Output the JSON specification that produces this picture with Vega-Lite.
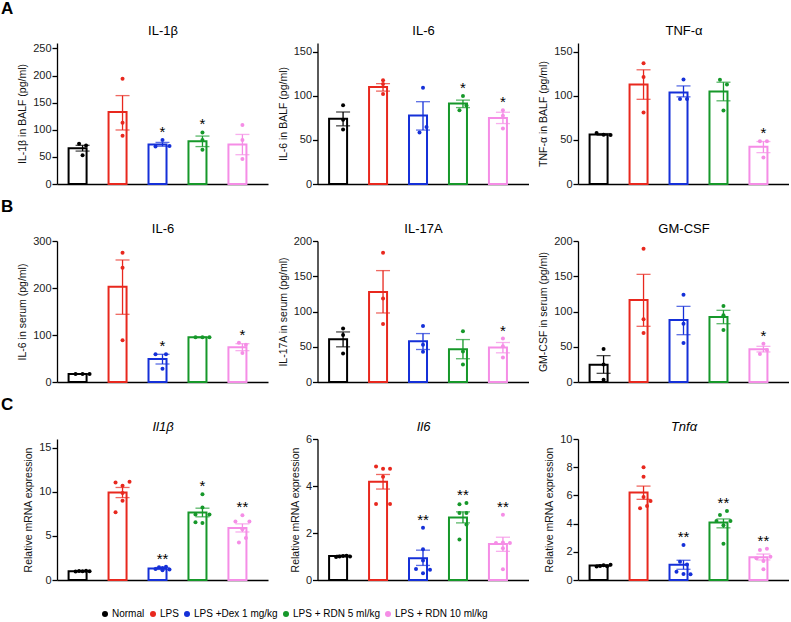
{
"$schema":"https://vega.github.io/schema/vega-lite/v6.json",
"padding":{"left":1,"top":0,"right":0,"bottom":0},
"columns":3,
"bounds":"flush",
"spacing":{"row":57,"column":49.5},
"config":{"font":"Liberation Sans","view":{"stroke":null},
 "axis":{"grid":false,"domainColor":"#000","tickColor":"#000","labelColor":"#222","labelFontSize":11,"titleFontSize":10.5,"titleFontWeight":"normal","titleColor":"#111","domainWidth":1.3,"tickWidth":1.3,"tickSize":5,"labelPadding":1,"titlePadding":5},
 "legend":{"orient":"none","legendX":43,"legendY":566,"direction":"horizontal","symbolType":"circle","symbolSize":36,"symbolStrokeWidth":0,"labelFont":"Liberation Sans","labelFontSize":10,"labelColor":"#000","columnPadding":3,"labelOffset":2},
 "title":{"fontSize":17,"fontWeight":"bold","color":"#000","anchor":"start","frame":"group","dx":-56,"offset":6}},
"datasets":{
"bars":[
{"p":"A1","g":"Normal","m":66,"lo":60.7,"hi":71.3},{"p":"A1","g":"LPS","m":132.7,"lo":99.6,"hi":163},{"p":"A1","g":"LPS +Dex 1 mg/kg","m":73,"lo":69.6,"hi":76.7},{"p":"A1","g":"LPS + RDN 5 ml/kg","m":79,"lo":69,"hi":88.4},{"p":"A1","g":"LPS + RDN 10 ml/kg","m":73,"lo":54,"hi":91.4},
{"p":"A2","g":"Normal","m":74,"lo":66,"hi":81.7},{"p":"A2","g":"LPS","m":110,"lo":105.4,"hi":113.9},{"p":"A2","g":"LPS +Dex 1 mg/kg","m":77.8,"lo":61.2,"hi":93.4},{"p":"A2","g":"LPS + RDN 5 ml/kg","m":91.3,"lo":86.7,"hi":95.2},{"p":"A2","g":"LPS + RDN 10 ml/kg","m":75,"lo":68.6,"hi":81.4},
{"p":"A3","g":"Normal","m":56.3,"lo":55.5,"hi":57.2},{"p":"A3","g":"LPS","m":113,"lo":96.1,"hi":129.6},{"p":"A3","g":"LPS +Dex 1 mg/kg","m":103.9,"lo":98.9,"hi":111.3},{"p":"A3","g":"LPS + RDN 5 ml/kg","m":104.9,"lo":94.4,"hi":115.5},{"p":"A3","g":"LPS + RDN 10 ml/kg","m":42.3,"lo":35.6,"hi":48.2},
{"p":"B1","g":"Normal","m":17,"lo":16.3,"hi":17.7},{"p":"B1","g":"LPS","m":202.8,"lo":144,"hi":259.6},{"p":"B1","g":"LPS +Dex 1 mg/kg","m":49,"lo":38.3,"hi":58.9},{"p":"B1","g":"LPS + RDN 5 ml/kg","m":95,"lo":94.5,"hi":95.5},{"p":"B1","g":"LPS + RDN 10 ml/kg","m":73.8,"lo":66.7,"hi":81.6},
{"p":"B2","g":"Normal","m":60.7,"lo":49.9,"hi":71},{"p":"B2","g":"LPS","m":127.5,"lo":97.9,"hi":158},{"p":"B2","g":"LPS +Dex 1 mg/kg","m":57.9,"lo":46.1,"hi":68.7},{"p":"B2","g":"LPS + RDN 5 ml/kg","m":46.6,"lo":33,"hi":60.2},{"p":"B2","g":"LPS + RDN 10 ml/kg","m":49,"lo":41.4,"hi":56},
{"p":"B3","g":"Normal","m":24.6,"lo":12.3,"hi":37.4},{"p":"B3","g":"LPS","m":116.3,"lo":79,"hi":152.7},{"p":"B3","g":"LPS +Dex 1 mg/kg","m":87.9,"lo":67.1,"hi":107.3},{"p":"B3","g":"LPS + RDN 5 ml/kg","m":92.2,"lo":82.7,"hi":101.7},{"p":"B3","g":"LPS + RDN 10 ml/kg","m":46.3,"lo":42.6,"hi":50.6},
{"p":"C1","g":"Normal","m":1.0,"lo":0.95,"hi":1.05},{"p":"C1","g":"LPS","m":9.92,"lo":9.35,"hi":10.5},{"p":"C1","g":"LPS +Dex 1 mg/kg","m":1.31,"lo":1.2,"hi":1.42},{"p":"C1","g":"LPS + RDN 5 ml/kg","m":7.65,"lo":7.17,"hi":8.15},{"p":"C1","g":"LPS + RDN 10 ml/kg","m":5.9,"lo":5.45,"hi":6.37},
{"p":"C2","g":"Normal","m":1.02,"lo":0.99,"hi":1.05},{"p":"C2","g":"LPS","m":4.18,"lo":3.87,"hi":4.49},{"p":"C2","g":"LPS +Dex 1 mg/kg","m":0.93,"lo":0.62,"hi":1.27},{"p":"C2","g":"LPS + RDN 5 ml/kg","m":2.66,"lo":2.43,"hi":2.9},{"p":"C2","g":"LPS + RDN 10 ml/kg","m":1.53,"lo":1.22,"hi":1.82},
{"p":"C3","g":"Normal","m":1.02,"lo":0.98,"hi":1.06},{"p":"C3","g":"LPS","m":6.2,"lo":5.72,"hi":6.66},{"p":"C3","g":"LPS +Dex 1 mg/kg","m":1.08,"lo":0.76,"hi":1.4},{"p":"C3","g":"LPS + RDN 5 ml/kg","m":4.07,"lo":3.7,"hi":4.33},{"p":"C3","g":"LPS + RDN 10 ml/kg","m":1.62,"lo":1.42,"hi":1.84}
],
"pts":[
{"p":"A1","g":"Normal","v":74,"s":4},{"p":"A1","g":"Normal","v":71,"s":6},{"p":"A1","g":"Normal","v":53,"s":5},
{"p":"A1","g":"LPS","v":194,"s":5},{"p":"A1","g":"LPS","v":113,"s":5},{"p":"A1","g":"LPS","v":89,"s":5},
{"p":"A1","g":"LPS +Dex 1 mg/kg","v":81,"s":5,"sig":"*"},{"p":"A1","g":"LPS +Dex 1 mg/kg","v":69,"s":3,"sig":"*"},{"p":"A1","g":"LPS +Dex 1 mg/kg","v":70,"s":7,"sig":"*"},
{"p":"A1","g":"LPS + RDN 5 ml/kg","v":95,"s":5,"sig":"*"},{"p":"A1","g":"LPS + RDN 5 ml/kg","v":81,"s":5,"sig":"*"},{"p":"A1","g":"LPS + RDN 5 ml/kg","v":63,"s":5,"sig":"*"},
{"p":"A1","g":"LPS + RDN 10 ml/kg","v":109,"s":5},{"p":"A1","g":"LPS + RDN 10 ml/kg","v":81,"s":5},{"p":"A1","g":"LPS + RDN 10 ml/kg","v":46,"s":5},
{"p":"A2","g":"Normal","v":89.5,"s":5},{"p":"A2","g":"Normal","v":72.9,"s":5},{"p":"A2","g":"Normal","v":61.9,"s":5},
{"p":"A2","g":"LPS","v":117.8,"s":5},{"p":"A2","g":"LPS","v":113.5,"s":5},{"p":"A2","g":"LPS","v":102.2,"s":5},
{"p":"A2","g":"LPS +Dex 1 mg/kg","v":109.3,"s":5},{"p":"A2","g":"LPS +Dex 1 mg/kg","v":64.7,"s":6},{"p":"A2","g":"LPS +Dex 1 mg/kg","v":58.4,"s":4},
{"p":"A2","g":"LPS + RDN 5 ml/kg","v":99.8,"s":5,"sig":"*"},{"p":"A2","g":"LPS + RDN 5 ml/kg","v":89.1,"s":6,"sig":"*"},{"p":"A2","g":"LPS + RDN 5 ml/kg","v":83.8,"s":4,"sig":"*"},
{"p":"A2","g":"LPS + RDN 10 ml/kg","v":83.8,"s":5,"sig":"*"},{"p":"A2","g":"LPS + RDN 10 ml/kg","v":77.5,"s":5,"sig":"*"},{"p":"A2","g":"LPS + RDN 10 ml/kg","v":63,"s":5,"sig":"*"},
{"p":"A3","g":"Normal","v":58,"s":3},{"p":"A3","g":"Normal","v":56,"s":5},{"p":"A3","g":"Normal","v":55.6,"s":7},
{"p":"A3","g":"LPS","v":137,"s":5},{"p":"A3","g":"LPS","v":121.5,"s":5},{"p":"A3","g":"LPS","v":81,"s":5},
{"p":"A3","g":"LPS +Dex 1 mg/kg","v":118.7,"s":5},{"p":"A3","g":"LPS +Dex 1 mg/kg","v":96.5,"s":4},{"p":"A3","g":"LPS +Dex 1 mg/kg","v":96.5,"s":6},
{"p":"A3","g":"LPS + RDN 5 ml/kg","v":118.3,"s":4},{"p":"A3","g":"LPS + RDN 5 ml/kg","v":113,"s":6},{"p":"A3","g":"LPS + RDN 5 ml/kg","v":83.5,"s":5},
{"p":"A3","g":"LPS + RDN 10 ml/kg","v":48.6,"s":4,"sig":"*"},{"p":"A3","g":"LPS + RDN 10 ml/kg","v":48.6,"s":6,"sig":"*"},{"p":"A3","g":"LPS + RDN 10 ml/kg","v":30,"s":5,"sig":"*"},
{"p":"B1","g":"Normal","v":17,"s":3},{"p":"B1","g":"Normal","v":17,"s":5},{"p":"B1","g":"Normal","v":17,"s":7},
{"p":"B1","g":"LPS","v":275,"s":5},{"p":"B1","g":"LPS","v":243,"s":5},{"p":"B1","g":"LPS","v":88.7,"s":5},
{"p":"B1","g":"LPS +Dex 1 mg/kg","v":58.9,"s":3,"sig":"*"},{"p":"B1","g":"LPS +Dex 1 mg/kg","v":58.9,"s":6,"sig":"*"},{"p":"B1","g":"LPS +Dex 1 mg/kg","v":28.4,"s":5,"sig":"*"},
{"p":"B1","g":"LPS + RDN 5 ml/kg","v":95,"s":3},{"p":"B1","g":"LPS + RDN 5 ml/kg","v":95,"s":5},{"p":"B1","g":"LPS + RDN 5 ml/kg","v":95,"s":7},
{"p":"B1","g":"LPS + RDN 10 ml/kg","v":83.7,"s":4,"sig":"*"},{"p":"B1","g":"LPS + RDN 10 ml/kg","v":79.4,"s":6,"sig":"*"},{"p":"B1","g":"LPS + RDN 10 ml/kg","v":61.7,"s":5,"sig":"*"},
{"p":"B2","g":"Normal","v":75.8,"s":5},{"p":"B2","g":"Normal","v":66.8,"s":5},{"p":"B2","g":"Normal","v":40.5,"s":5},
{"p":"B2","g":"LPS","v":183.5,"s":5},{"p":"B2","g":"LPS","v":118.6,"s":5},{"p":"B2","g":"LPS","v":82.4,"s":5},
{"p":"B2","g":"LPS +Dex 1 mg/kg","v":79.5,"s":5},{"p":"B2","g":"LPS +Dex 1 mg/kg","v":52.7,"s":5},{"p":"B2","g":"LPS +Dex 1 mg/kg","v":42.8,"s":5},
{"p":"B2","g":"LPS + RDN 5 ml/kg","v":72,"s":5},{"p":"B2","g":"LPS + RDN 5 ml/kg","v":43.3,"s":5},{"p":"B2","g":"LPS + RDN 5 ml/kg","v":25,"s":5},
{"p":"B2","g":"LPS + RDN 10 ml/kg","v":61.6,"s":5,"sig":"*"},{"p":"B2","g":"LPS + RDN 10 ml/kg","v":50.8,"s":5,"sig":"*"},{"p":"B2","g":"LPS + RDN 10 ml/kg","v":34.8,"s":5,"sig":"*"},
{"p":"B3","g":"Normal","v":46.8,"s":5},{"p":"B3","g":"Normal","v":25,"s":5},{"p":"B3","g":"Normal","v":3.3,"s":5},
{"p":"B3","g":"LPS","v":189,"s":5},{"p":"B3","g":"LPS","v":88.9,"s":5},{"p":"B3","g":"LPS","v":69.5,"s":5},
{"p":"B3","g":"LPS +Dex 1 mg/kg","v":123.9,"s":5},{"p":"B3","g":"LPS +Dex 1 mg/kg","v":82.7,"s":5},{"p":"B3","g":"LPS +Dex 1 mg/kg","v":55.3,"s":5},
{"p":"B3","g":"LPS + RDN 5 ml/kg","v":107.8,"s":5},{"p":"B3","g":"LPS + RDN 5 ml/kg","v":94.6,"s":5},{"p":"B3","g":"LPS + RDN 5 ml/kg","v":73.8,"s":5},
{"p":"B3","g":"LPS + RDN 10 ml/kg","v":54.4,"s":5,"sig":"*"},{"p":"B3","g":"LPS + RDN 10 ml/kg","v":45.4,"s":6,"sig":"*"},{"p":"B3","g":"LPS + RDN 10 ml/kg","v":39.7,"s":4,"sig":"*"},
{"p":"C1","g":"Normal","v":0.97,"s":3},{"p":"C1","g":"Normal","v":1.02,"s":4},{"p":"C1","g":"Normal","v":0.98,"s":5},{"p":"C1","g":"Normal","v":1.05,"s":6},{"p":"C1","g":"Normal","v":1.0,"s":7},
{"p":"C1","g":"LPS","v":11.05,"s":3},{"p":"C1","g":"LPS","v":11.15,"s":7},{"p":"C1","g":"LPS","v":10.7,"s":5},{"p":"C1","g":"LPS","v":9.88,"s":5},{"p":"C1","g":"LPS","v":9.0,"s":5},{"p":"C1","g":"LPS","v":7.7,"s":3},
{"p":"C1","g":"LPS +Dex 1 mg/kg","v":1.45,"s":4,"sig":"**"},{"p":"C1","g":"LPS +Dex 1 mg/kg","v":1.5,"s":6,"sig":"**"},{"p":"C1","g":"LPS +Dex 1 mg/kg","v":1.35,"s":5,"sig":"**"},{"p":"C1","g":"LPS +Dex 1 mg/kg","v":1.25,"s":3,"sig":"**"},{"p":"C1","g":"LPS +Dex 1 mg/kg","v":1.2,"s":7,"sig":"**"},{"p":"C1","g":"LPS +Dex 1 mg/kg","v":1.1,"s":5,"sig":"**"},
{"p":"C1","g":"LPS + RDN 5 ml/kg","v":9.72,"s":5,"sig":"*"},{"p":"C1","g":"LPS + RDN 5 ml/kg","v":8.24,"s":5,"sig":"*"},{"p":"C1","g":"LPS + RDN 5 ml/kg","v":7.43,"s":3,"sig":"*"},{"p":"C1","g":"LPS + RDN 5 ml/kg","v":7.43,"s":7,"sig":"*"},{"p":"C1","g":"LPS + RDN 5 ml/kg","v":6.54,"s":3,"sig":"*"},{"p":"C1","g":"LPS + RDN 5 ml/kg","v":6.47,"s":5,"sig":"*"},
{"p":"C1","g":"LPS + RDN 10 ml/kg","v":7.36,"s":5,"sig":"**"},{"p":"C1","g":"LPS + RDN 10 ml/kg","v":6.65,"s":3,"sig":"**"},{"p":"C1","g":"LPS + RDN 10 ml/kg","v":6.65,"s":7,"sig":"**"},{"p":"C1","g":"LPS + RDN 10 ml/kg","v":5.77,"s":5,"sig":"**"},{"p":"C1","g":"LPS + RDN 10 ml/kg","v":4.78,"s":6,"sig":"**"},{"p":"C1","g":"LPS + RDN 10 ml/kg","v":4.25,"s":4,"sig":"**"},
{"p":"C2","g":"Normal","v":0.98,"s":3},{"p":"C2","g":"Normal","v":1.0,"s":4},{"p":"C2","g":"Normal","v":1.02,"s":5},{"p":"C2","g":"Normal","v":1.03,"s":6},{"p":"C2","g":"Normal","v":1.0,"s":7},
{"p":"C2","g":"LPS","v":4.83,"s":3},{"p":"C2","g":"LPS","v":4.73,"s":5},{"p":"C2","g":"LPS","v":4.73,"s":7},{"p":"C2","g":"LPS","v":4.39,"s":5},{"p":"C2","g":"LPS","v":3.23,"s":3},{"p":"C2","g":"LPS","v":3.23,"s":7},
{"p":"C2","g":"LPS +Dex 1 mg/kg","v":2.22,"s":5,"sig":"**"},{"p":"C2","g":"LPS +Dex 1 mg/kg","v":1.31,"s":5,"sig":"**"},{"p":"C2","g":"LPS +Dex 1 mg/kg","v":0.83,"s":5,"sig":"**"},{"p":"C2","g":"LPS +Dex 1 mg/kg","v":0.47,"s":3,"sig":"**"},{"p":"C2","g":"LPS +Dex 1 mg/kg","v":0.44,"s":7,"sig":"**"},{"p":"C2","g":"LPS +Dex 1 mg/kg","v":0.29,"s":5,"sig":"**"},
{"p":"C2","g":"LPS + RDN 5 ml/kg","v":3.22,"s":4,"sig":"**"},{"p":"C2","g":"LPS + RDN 5 ml/kg","v":3.28,"s":6,"sig":"**"},{"p":"C2","g":"LPS + RDN 5 ml/kg","v":2.85,"s":4,"sig":"**"},{"p":"C2","g":"LPS + RDN 5 ml/kg","v":2.85,"s":6,"sig":"**"},{"p":"C2","g":"LPS + RDN 5 ml/kg","v":2.36,"s":6,"sig":"**"},{"p":"C2","g":"LPS + RDN 5 ml/kg","v":1.72,"s":4,"sig":"**"},
{"p":"C2","g":"LPS + RDN 10 ml/kg","v":2.78,"s":5,"sig":"**"},{"p":"C2","g":"LPS + RDN 10 ml/kg","v":1.57,"s":3,"sig":"**"},{"p":"C2","g":"LPS + RDN 10 ml/kg","v":1.6,"s":5,"sig":"**"},{"p":"C2","g":"LPS + RDN 10 ml/kg","v":1.57,"s":7,"sig":"**"},{"p":"C2","g":"LPS + RDN 10 ml/kg","v":1.35,"s":5,"sig":"**"},{"p":"C2","g":"LPS + RDN 10 ml/kg","v":0.46,"s":5,"sig":"**"},
{"p":"C3","g":"Normal","v":0.95,"s":3},{"p":"C3","g":"Normal","v":1.0,"s":4},{"p":"C3","g":"Normal","v":1.05,"s":5},{"p":"C3","g":"Normal","v":0.98,"s":6},{"p":"C3","g":"Normal","v":1.08,"s":7},
{"p":"C3","g":"LPS","v":8.0,"s":5},{"p":"C3","g":"LPS","v":7.33,"s":5},{"p":"C3","g":"LPS","v":5.89,"s":5},{"p":"C3","g":"LPS","v":5.6,"s":7},{"p":"C3","g":"LPS","v":5.25,"s":6},{"p":"C3","g":"LPS","v":5.08,"s":4},
{"p":"C3","g":"LPS +Dex 1 mg/kg","v":2.48,"s":5,"sig":"**"},{"p":"C3","g":"LPS +Dex 1 mg/kg","v":1.3,"s":4,"sig":"**"},{"p":"C3","g":"LPS +Dex 1 mg/kg","v":1.1,"s":6,"sig":"**"},{"p":"C3","g":"LPS +Dex 1 mg/kg","v":0.59,"s":3,"sig":"**"},{"p":"C3","g":"LPS +Dex 1 mg/kg","v":0.42,"s":5,"sig":"**"},{"p":"C3","g":"LPS +Dex 1 mg/kg","v":0.4,"s":7,"sig":"**"},
{"p":"C3","g":"LPS + RDN 5 ml/kg","v":4.89,"s":6,"sig":"**"},{"p":"C3","g":"LPS + RDN 5 ml/kg","v":4.61,"s":4,"sig":"**"},{"p":"C3","g":"LPS + RDN 5 ml/kg","v":4.18,"s":3,"sig":"**"},{"p":"C3","g":"LPS + RDN 5 ml/kg","v":4.18,"s":7,"sig":"**"},{"p":"C3","g":"LPS + RDN 5 ml/kg","v":3.88,"s":5,"sig":"**"},{"p":"C3","g":"LPS + RDN 5 ml/kg","v":2.57,"s":5,"sig":"**"},
{"p":"C3","g":"LPS + RDN 10 ml/kg","v":2.13,"s":4,"sig":"**"},{"p":"C3","g":"LPS + RDN 10 ml/kg","v":2.22,"s":6,"sig":"**"},{"p":"C3","g":"LPS + RDN 10 ml/kg","v":1.54,"s":3,"sig":"**"},{"p":"C3","g":"LPS + RDN 10 ml/kg","v":1.65,"s":7,"sig":"**"},{"p":"C3","g":"LPS + RDN 10 ml/kg","v":1.35,"s":5,"sig":"**"},{"p":"C3","g":"LPS + RDN 10 ml/kg","v":0.76,"s":5,"sig":"**"}
]},
"concat":[
 {"width":211,"height":141,"title":"A","resolve":{"axis":{"x":"independent"}},
  "encoding":{"x":{"field":"g","type":"nominal","title":null,"scale":{"domain":["Normal","LPS","LPS +Dex 1 mg/kg","LPS + RDN 5 ml/kg","LPS + RDN 10 ml/kg"],"paddingInner":0.3,"paddingOuter":0.29},"axis":null},
   "color":{"field":"g","type":"nominal","title":null,"scale":{"domain":["Normal","LPS","LPS +Dex 1 mg/kg","LPS + RDN 5 ml/kg","LPS + RDN 10 ml/kg"],"range":["#000000","#e8281e","#1530d8","#16982a","#f58de6"]},"legend":{"encode":{"symbols":{"update":{"fill":{"scale":"color","field":"value"},"strokeWidth":{"value":0}}}}}}},
  "layer":[
   {"data":{"name":"bars"},"transform":[{"filter":"datum.p=='A1'"}],"mark":{"type":"bar","filled":false,"strokeWidth":2},"encoding":{"x":{"field":"g","type":"nominal","axis":{"labels":false,"ticks":false,"title":null}},"y":{"field":"m","type":"quantitative","scale":{"domain":[0,250]},"axis":{"values":[0,50,100,150,200,250]},"title":"IL-1β in BALF (pg/ml)"}}},
   {"data":{"name":"bars"},"transform":[{"filter":"datum.p=='A1'"}],"mark":{"type":"rule","strokeWidth":1.3},"encoding":{"x":{"field":"g","type":"nominal","axis":{"orient":"top","domain":false,"labels":false,"ticks":false,"title":"IL-1β","titleFontSize":13,"titleColor":"#000","titlePadding":6}},"y":{"field":"lo","type":"quantitative","axis":{"values":[0,50,100,150,200,250]},"title":"IL-1β in BALF (pg/ml)"},"y2":{"field":"hi"}}},
   {"data":{"name":"bars"},"transform":[{"filter":"datum.p=='A1'"}],"mark":{"type":"tick","size":14,"thickness":1.3},"encoding":{"y":{"field":"lo","type":"quantitative","axis":{"values":[0,50,100,150,200,250]},"title":"IL-1β in BALF (pg/ml)"}}},
   {"data":{"name":"bars"},"transform":[{"filter":"datum.p=='A1'"}],"mark":{"type":"tick","size":14,"thickness":1.3},"encoding":{"y":{"field":"hi","type":"quantitative","axis":{"values":[0,50,100,150,200,250]},"title":"IL-1β in BALF (pg/ml)"}}},
   {"data":{"name":"pts"},"transform":[{"filter":"datum.p=='A1'"}],"mark":{"type":"circle","size":16,"opacity":1},"encoding":{"y":{"field":"v","type":"quantitative","axis":{"values":[0,50,100,150,200,250]},"title":"IL-1β in BALF (pg/ml)"},"xOffset":{"field":"s","type":"ordinal","scale":{"domain":[1,2,3,4,5,6,7,8,9],"paddingInner":0,"paddingOuter":0}}}},
   {"data":{"name":"pts"},"transform":[{"filter":"datum.p=='A1' && datum.sig"}],"mark":{"type":"text","dy":-3,"fontSize":15,"baseline":"alphabetic"},"encoding":{"y":{"aggregate":"max","field":"v","type":"quantitative","axis":{"values":[0,50,100,150,200,250]},"title":"IL-1β in BALF (pg/ml)"},"text":{"field":"sig"},"color":{"value":"#000"}}}
  ]},
 {"width":211,"height":141,"resolve":{"axis":{"x":"independent"}},
  "encoding":{"x":{"field":"g","type":"nominal","title":null,"scale":{"domain":["Normal","LPS","LPS +Dex 1 mg/kg","LPS + RDN 5 ml/kg","LPS + RDN 10 ml/kg"],"paddingInner":0.3,"paddingOuter":0.29},"axis":null},
   "color":{"field":"g","type":"nominal","title":null}},
  "layer":[
   {"data":{"name":"bars"},"transform":[{"filter":"datum.p=='A2'"}],"mark":{"type":"bar","filled":false,"strokeWidth":2},"encoding":{"x":{"field":"g","type":"nominal","axis":{"labels":false,"ticks":false,"title":null}},"y":{"field":"m","type":"quantitative","scale":{"domain":[0,150]},"axis":{"values":[0,50,100,150]},"title":"IL-6 in BALF (pg/ml)"}}},
   {"data":{"name":"bars"},"transform":[{"filter":"datum.p=='A2'"}],"mark":{"type":"rule","strokeWidth":1.3},"encoding":{"x":{"field":"g","type":"nominal","axis":{"orient":"top","domain":false,"labels":false,"ticks":false,"title":"IL-6","titleFontSize":13,"titleColor":"#000","titlePadding":6}},"y":{"field":"lo","type":"quantitative","axis":{"values":[0,50,100,150]},"title":"IL-6 in BALF (pg/ml)"},"y2":{"field":"hi"}}},
   {"data":{"name":"bars"},"transform":[{"filter":"datum.p=='A2'"}],"mark":{"type":"tick","size":14,"thickness":1.3},"encoding":{"y":{"field":"lo","type":"quantitative","axis":{"values":[0,50,100,150]},"title":"IL-6 in BALF (pg/ml)"}}},
   {"data":{"name":"bars"},"transform":[{"filter":"datum.p=='A2'"}],"mark":{"type":"tick","size":14,"thickness":1.3},"encoding":{"y":{"field":"hi","type":"quantitative","axis":{"values":[0,50,100,150]},"title":"IL-6 in BALF (pg/ml)"}}},
   {"data":{"name":"pts"},"transform":[{"filter":"datum.p=='A2'"}],"mark":{"type":"circle","size":16,"opacity":1},"encoding":{"y":{"field":"v","type":"quantitative","axis":{"values":[0,50,100,150]},"title":"IL-6 in BALF (pg/ml)"},"xOffset":{"field":"s","type":"ordinal","scale":{"domain":[1,2,3,4,5,6,7,8,9],"paddingInner":0,"paddingOuter":0}}}},
   {"data":{"name":"pts"},"transform":[{"filter":"datum.p=='A2' && datum.sig"}],"mark":{"type":"text","dy":-3,"fontSize":15,"baseline":"alphabetic"},"encoding":{"y":{"aggregate":"max","field":"v","type":"quantitative","axis":{"values":[0,50,100,150]},"title":"IL-6 in BALF (pg/ml)"},"text":{"field":"sig"},"color":{"value":"#000"}}}
  ]},
 {"width":211,"height":141,"resolve":{"axis":{"x":"independent"}},
  "encoding":{"x":{"field":"g","type":"nominal","title":null,"scale":{"domain":["Normal","LPS","LPS +Dex 1 mg/kg","LPS + RDN 5 ml/kg","LPS + RDN 10 ml/kg"],"paddingInner":0.3,"paddingOuter":0.29},"axis":null},
   "color":{"field":"g","type":"nominal","title":null}},
  "layer":[
   {"data":{"name":"bars"},"transform":[{"filter":"datum.p=='A3'"}],"mark":{"type":"bar","filled":false,"strokeWidth":2},"encoding":{"x":{"field":"g","type":"nominal","axis":{"labels":false,"ticks":false,"title":null}},"y":{"field":"m","type":"quantitative","scale":{"domain":[0,150]},"axis":{"values":[0,50,100,150]},"title":"TNF-α in BALF (pg/ml)"}}},
   {"data":{"name":"bars"},"transform":[{"filter":"datum.p=='A3'"}],"mark":{"type":"rule","strokeWidth":1.3},"encoding":{"x":{"field":"g","type":"nominal","axis":{"orient":"top","domain":false,"labels":false,"ticks":false,"title":"TNF-α","titleFontSize":13,"titleColor":"#000","titlePadding":6}},"y":{"field":"lo","type":"quantitative","axis":{"values":[0,50,100,150]},"title":"TNF-α in BALF (pg/ml)"},"y2":{"field":"hi"}}},
   {"data":{"name":"bars"},"transform":[{"filter":"datum.p=='A3'"}],"mark":{"type":"tick","size":14,"thickness":1.3},"encoding":{"y":{"field":"lo","type":"quantitative","axis":{"values":[0,50,100,150]},"title":"TNF-α in BALF (pg/ml)"}}},
   {"data":{"name":"bars"},"transform":[{"filter":"datum.p=='A3'"}],"mark":{"type":"tick","size":14,"thickness":1.3},"encoding":{"y":{"field":"hi","type":"quantitative","axis":{"values":[0,50,100,150]},"title":"TNF-α in BALF (pg/ml)"}}},
   {"data":{"name":"pts"},"transform":[{"filter":"datum.p=='A3'"}],"mark":{"type":"circle","size":16,"opacity":1},"encoding":{"y":{"field":"v","type":"quantitative","axis":{"values":[0,50,100,150]},"title":"TNF-α in BALF (pg/ml)"},"xOffset":{"field":"s","type":"ordinal","scale":{"domain":[1,2,3,4,5,6,7,8,9],"paddingInner":0,"paddingOuter":0}}}},
   {"data":{"name":"pts"},"transform":[{"filter":"datum.p=='A3' && datum.sig"}],"mark":{"type":"text","dy":-3,"fontSize":15,"baseline":"alphabetic"},"encoding":{"y":{"aggregate":"max","field":"v","type":"quantitative","axis":{"values":[0,50,100,150]},"title":"TNF-α in BALF (pg/ml)"},"text":{"field":"sig"},"color":{"value":"#000"}}}
  ]},
 {"width":211,"height":141,"title":"B","resolve":{"axis":{"x":"independent"}},
  "encoding":{"x":{"field":"g","type":"nominal","title":null,"scale":{"domain":["Normal","LPS","LPS +Dex 1 mg/kg","LPS + RDN 5 ml/kg","LPS + RDN 10 ml/kg"],"paddingInner":0.3,"paddingOuter":0.29},"axis":null},
   "color":{"field":"g","type":"nominal","title":null}},
  "layer":[
   {"data":{"name":"bars"},"transform":[{"filter":"datum.p=='B1'"}],"mark":{"type":"bar","filled":false,"strokeWidth":2},"encoding":{"x":{"field":"g","type":"nominal","axis":{"labels":false,"ticks":false,"title":null}},"y":{"field":"m","type":"quantitative","scale":{"domain":[0,300]},"axis":{"values":[0,100,200,300]},"title":"IL-6 in serum (pg/ml)"}}},
   {"data":{"name":"bars"},"transform":[{"filter":"datum.p=='B1'"}],"mark":{"type":"rule","strokeWidth":1.3},"encoding":{"x":{"field":"g","type":"nominal","axis":{"orient":"top","domain":false,"labels":false,"ticks":false,"title":"IL-6","titleFontSize":13,"titleColor":"#000","titlePadding":6}},"y":{"field":"lo","type":"quantitative","axis":{"values":[0,100,200,300]},"title":"IL-6 in serum (pg/ml)"},"y2":{"field":"hi"}}},
   {"data":{"name":"bars"},"transform":[{"filter":"datum.p=='B1'"}],"mark":{"type":"tick","size":14,"thickness":1.3},"encoding":{"y":{"field":"lo","type":"quantitative","axis":{"values":[0,100,200,300]},"title":"IL-6 in serum (pg/ml)"}}},
   {"data":{"name":"bars"},"transform":[{"filter":"datum.p=='B1'"}],"mark":{"type":"tick","size":14,"thickness":1.3},"encoding":{"y":{"field":"hi","type":"quantitative","axis":{"values":[0,100,200,300]},"title":"IL-6 in serum (pg/ml)"}}},
   {"data":{"name":"pts"},"transform":[{"filter":"datum.p=='B1'"}],"mark":{"type":"circle","size":16,"opacity":1},"encoding":{"y":{"field":"v","type":"quantitative","axis":{"values":[0,100,200,300]},"title":"IL-6 in serum (pg/ml)"},"xOffset":{"field":"s","type":"ordinal","scale":{"domain":[1,2,3,4,5,6,7,8,9],"paddingInner":0,"paddingOuter":0}}}},
   {"data":{"name":"pts"},"transform":[{"filter":"datum.p=='B1' && datum.sig"}],"mark":{"type":"text","dy":-3,"fontSize":15,"baseline":"alphabetic"},"encoding":{"y":{"aggregate":"max","field":"v","type":"quantitative","axis":{"values":[0,100,200,300]},"title":"IL-6 in serum (pg/ml)"},"text":{"field":"sig"},"color":{"value":"#000"}}}
  ]},
 {"width":211,"height":141,"resolve":{"axis":{"x":"independent"}},
  "encoding":{"x":{"field":"g","type":"nominal","title":null,"scale":{"domain":["Normal","LPS","LPS +Dex 1 mg/kg","LPS + RDN 5 ml/kg","LPS + RDN 10 ml/kg"],"paddingInner":0.3,"paddingOuter":0.29},"axis":null},
   "color":{"field":"g","type":"nominal","title":null}},
  "layer":[
   {"data":{"name":"bars"},"transform":[{"filter":"datum.p=='B2'"}],"mark":{"type":"bar","filled":false,"strokeWidth":2},"encoding":{"x":{"field":"g","type":"nominal","axis":{"labels":false,"ticks":false,"title":null}},"y":{"field":"m","type":"quantitative","scale":{"domain":[0,200]},"axis":{"values":[0,50,100,150,200]},"title":"IL-17A in serum (pg/ml)"}}},
   {"data":{"name":"bars"},"transform":[{"filter":"datum.p=='B2'"}],"mark":{"type":"rule","strokeWidth":1.3},"encoding":{"x":{"field":"g","type":"nominal","axis":{"orient":"top","domain":false,"labels":false,"ticks":false,"title":"IL-17A","titleFontSize":13,"titleColor":"#000","titlePadding":6}},"y":{"field":"lo","type":"quantitative","axis":{"values":[0,50,100,150,200]},"title":"IL-17A in serum (pg/ml)"},"y2":{"field":"hi"}}},
   {"data":{"name":"bars"},"transform":[{"filter":"datum.p=='B2'"}],"mark":{"type":"tick","size":14,"thickness":1.3},"encoding":{"y":{"field":"lo","type":"quantitative","axis":{"values":[0,50,100,150,200]},"title":"IL-17A in serum (pg/ml)"}}},
   {"data":{"name":"bars"},"transform":[{"filter":"datum.p=='B2'"}],"mark":{"type":"tick","size":14,"thickness":1.3},"encoding":{"y":{"field":"hi","type":"quantitative","axis":{"values":[0,50,100,150,200]},"title":"IL-17A in serum (pg/ml)"}}},
   {"data":{"name":"pts"},"transform":[{"filter":"datum.p=='B2'"}],"mark":{"type":"circle","size":16,"opacity":1},"encoding":{"y":{"field":"v","type":"quantitative","axis":{"values":[0,50,100,150,200]},"title":"IL-17A in serum (pg/ml)"},"xOffset":{"field":"s","type":"ordinal","scale":{"domain":[1,2,3,4,5,6,7,8,9],"paddingInner":0,"paddingOuter":0}}}},
   {"data":{"name":"pts"},"transform":[{"filter":"datum.p=='B2' && datum.sig"}],"mark":{"type":"text","dy":-3,"fontSize":15,"baseline":"alphabetic"},"encoding":{"y":{"aggregate":"max","field":"v","type":"quantitative","axis":{"values":[0,50,100,150,200]},"title":"IL-17A in serum (pg/ml)"},"text":{"field":"sig"},"color":{"value":"#000"}}}
  ]},
 {"width":211,"height":141,"resolve":{"axis":{"x":"independent"}},
  "encoding":{"x":{"field":"g","type":"nominal","title":null,"scale":{"domain":["Normal","LPS","LPS +Dex 1 mg/kg","LPS + RDN 5 ml/kg","LPS + RDN 10 ml/kg"],"paddingInner":0.3,"paddingOuter":0.29},"axis":null},
   "color":{"field":"g","type":"nominal","title":null}},
  "layer":[
   {"data":{"name":"bars"},"transform":[{"filter":"datum.p=='B3'"}],"mark":{"type":"bar","filled":false,"strokeWidth":2},"encoding":{"x":{"field":"g","type":"nominal","axis":{"labels":false,"ticks":false,"title":null}},"y":{"field":"m","type":"quantitative","scale":{"domain":[0,200]},"axis":{"values":[0,50,100,150,200]},"title":"GM-CSF in serum (pg/ml)"}}},
   {"data":{"name":"bars"},"transform":[{"filter":"datum.p=='B3'"}],"mark":{"type":"rule","strokeWidth":1.3},"encoding":{"x":{"field":"g","type":"nominal","axis":{"orient":"top","domain":false,"labels":false,"ticks":false,"title":"GM-CSF","titleFontSize":13,"titleColor":"#000","titlePadding":6}},"y":{"field":"lo","type":"quantitative","axis":{"values":[0,50,100,150,200]},"title":"GM-CSF in serum (pg/ml)"},"y2":{"field":"hi"}}},
   {"data":{"name":"bars"},"transform":[{"filter":"datum.p=='B3'"}],"mark":{"type":"tick","size":14,"thickness":1.3},"encoding":{"y":{"field":"lo","type":"quantitative","axis":{"values":[0,50,100,150,200]},"title":"GM-CSF in serum (pg/ml)"}}},
   {"data":{"name":"bars"},"transform":[{"filter":"datum.p=='B3'"}],"mark":{"type":"tick","size":14,"thickness":1.3},"encoding":{"y":{"field":"hi","type":"quantitative","axis":{"values":[0,50,100,150,200]},"title":"GM-CSF in serum (pg/ml)"}}},
   {"data":{"name":"pts"},"transform":[{"filter":"datum.p=='B3'"}],"mark":{"type":"circle","size":16,"opacity":1},"encoding":{"y":{"field":"v","type":"quantitative","axis":{"values":[0,50,100,150,200]},"title":"GM-CSF in serum (pg/ml)"},"xOffset":{"field":"s","type":"ordinal","scale":{"domain":[1,2,3,4,5,6,7,8,9],"paddingInner":0,"paddingOuter":0}}}},
   {"data":{"name":"pts"},"transform":[{"filter":"datum.p=='B3' && datum.sig"}],"mark":{"type":"text","dy":-3,"fontSize":15,"baseline":"alphabetic"},"encoding":{"y":{"aggregate":"max","field":"v","type":"quantitative","axis":{"values":[0,50,100,150,200]},"title":"GM-CSF in serum (pg/ml)"},"text":{"field":"sig"},"color":{"value":"#000"}}}
  ]},
 {"width":211,"height":141,"title":"C","resolve":{"axis":{"x":"independent"}},
  "encoding":{"x":{"field":"g","type":"nominal","title":null,"scale":{"domain":["Normal","LPS","LPS +Dex 1 mg/kg","LPS + RDN 5 ml/kg","LPS + RDN 10 ml/kg"],"paddingInner":0.3,"paddingOuter":0.29},"axis":null},
   "color":{"field":"g","type":"nominal","title":null}},
  "layer":[
   {"data":{"name":"bars"},"transform":[{"filter":"datum.p=='C1'"}],"mark":{"type":"bar","filled":false,"strokeWidth":2},"encoding":{"x":{"field":"g","type":"nominal","axis":{"labels":false,"ticks":false,"title":null}},"y":{"field":"m","type":"quantitative","scale":{"domain":[0,15]},"axis":{"values":[0,5,10,15]},"title":"Relative mRNA expression"}}},
   {"data":{"name":"bars"},"transform":[{"filter":"datum.p=='C1'"}],"mark":{"type":"rule","strokeWidth":1.3},"encoding":{"x":{"field":"g","type":"nominal","axis":{"orient":"top","domain":false,"labels":false,"ticks":false,"title":"Il1β","titleFontSize":13,"titleFontStyle":"italic","titleColor":"#000","titlePadding":6}},"y":{"field":"lo","type":"quantitative","axis":{"values":[0,5,10,15]},"title":"Relative mRNA expression"},"y2":{"field":"hi"}}},
   {"data":{"name":"bars"},"transform":[{"filter":"datum.p=='C1'"}],"mark":{"type":"tick","size":14,"thickness":1.3},"encoding":{"y":{"field":"lo","type":"quantitative","axis":{"values":[0,5,10,15]},"title":"Relative mRNA expression"}}},
   {"data":{"name":"bars"},"transform":[{"filter":"datum.p=='C1'"}],"mark":{"type":"tick","size":14,"thickness":1.3},"encoding":{"y":{"field":"hi","type":"quantitative","axis":{"values":[0,5,10,15]},"title":"Relative mRNA expression"}}},
   {"data":{"name":"pts"},"transform":[{"filter":"datum.p=='C1'"}],"mark":{"type":"circle","size":16,"opacity":1},"encoding":{"y":{"field":"v","type":"quantitative","axis":{"values":[0,5,10,15]},"title":"Relative mRNA expression"},"xOffset":{"field":"s","type":"ordinal","scale":{"domain":[1,2,3,4,5,6,7,8,9],"paddingInner":0,"paddingOuter":0}}}},
   {"data":{"name":"pts"},"transform":[{"filter":"datum.p=='C1' && datum.sig"}],"mark":{"type":"text","dy":-3,"fontSize":15,"baseline":"alphabetic"},"encoding":{"y":{"aggregate":"max","field":"v","type":"quantitative","axis":{"values":[0,5,10,15]},"title":"Relative mRNA expression"},"text":{"field":"sig"},"color":{"value":"#000"}}}
  ]},
 {"width":211,"height":141,"resolve":{"axis":{"x":"independent"}},
  "encoding":{"x":{"field":"g","type":"nominal","title":null,"scale":{"domain":["Normal","LPS","LPS +Dex 1 mg/kg","LPS + RDN 5 ml/kg","LPS + RDN 10 ml/kg"],"paddingInner":0.3,"paddingOuter":0.29},"axis":null},
   "color":{"field":"g","type":"nominal","title":null}},
  "layer":[
   {"data":{"name":"bars"},"transform":[{"filter":"datum.p=='C2'"}],"mark":{"type":"bar","filled":false,"strokeWidth":2},"encoding":{"x":{"field":"g","type":"nominal","axis":{"labels":false,"ticks":false,"title":null}},"y":{"field":"m","type":"quantitative","scale":{"domain":[0,6]},"axis":{"values":[0,2,4,6]},"title":"Relative mRNA expression"}}},
   {"data":{"name":"bars"},"transform":[{"filter":"datum.p=='C2'"}],"mark":{"type":"rule","strokeWidth":1.3},"encoding":{"x":{"field":"g","type":"nominal","axis":{"orient":"top","domain":false,"labels":false,"ticks":false,"title":"Il6","titleFontSize":13,"titleFontStyle":"italic","titleColor":"#000","titlePadding":6}},"y":{"field":"lo","type":"quantitative","axis":{"values":[0,2,4,6]},"title":"Relative mRNA expression"},"y2":{"field":"hi"}}},
   {"data":{"name":"bars"},"transform":[{"filter":"datum.p=='C2'"}],"mark":{"type":"tick","size":14,"thickness":1.3},"encoding":{"y":{"field":"lo","type":"quantitative","axis":{"values":[0,2,4,6]},"title":"Relative mRNA expression"}}},
   {"data":{"name":"bars"},"transform":[{"filter":"datum.p=='C2'"}],"mark":{"type":"tick","size":14,"thickness":1.3},"encoding":{"y":{"field":"hi","type":"quantitative","axis":{"values":[0,2,4,6]},"title":"Relative mRNA expression"}}},
   {"data":{"name":"pts"},"transform":[{"filter":"datum.p=='C2'"}],"mark":{"type":"circle","size":16,"opacity":1},"encoding":{"y":{"field":"v","type":"quantitative","axis":{"values":[0,2,4,6]},"title":"Relative mRNA expression"},"xOffset":{"field":"s","type":"ordinal","scale":{"domain":[1,2,3,4,5,6,7,8,9],"paddingInner":0,"paddingOuter":0}}}},
   {"data":{"name":"pts"},"transform":[{"filter":"datum.p=='C2' && datum.sig"}],"mark":{"type":"text","dy":-3,"fontSize":15,"baseline":"alphabetic"},"encoding":{"y":{"aggregate":"max","field":"v","type":"quantitative","axis":{"values":[0,2,4,6]},"title":"Relative mRNA expression"},"text":{"field":"sig"},"color":{"value":"#000"}}}
  ]},
 {"width":211,"height":141,"resolve":{"axis":{"x":"independent"}},
  "encoding":{"x":{"field":"g","type":"nominal","title":null,"scale":{"domain":["Normal","LPS","LPS +Dex 1 mg/kg","LPS + RDN 5 ml/kg","LPS + RDN 10 ml/kg"],"paddingInner":0.3,"paddingOuter":0.29},"axis":null},
   "color":{"field":"g","type":"nominal","title":null}},
  "layer":[
   {"data":{"name":"bars"},"transform":[{"filter":"datum.p=='C3'"}],"mark":{"type":"bar","filled":false,"strokeWidth":2},"encoding":{"x":{"field":"g","type":"nominal","axis":{"labels":false,"ticks":false,"title":null}},"y":{"field":"m","type":"quantitative","scale":{"domain":[0,10]},"axis":{"values":[0,2,4,6,8,10]},"title":"Relative mRNA expression"}}},
   {"data":{"name":"bars"},"transform":[{"filter":"datum.p=='C3'"}],"mark":{"type":"rule","strokeWidth":1.3},"encoding":{"x":{"field":"g","type":"nominal","axis":{"orient":"top","domain":false,"labels":false,"ticks":false,"title":"Tnfα","titleFontSize":13,"titleFontStyle":"italic","titleColor":"#000","titlePadding":6}},"y":{"field":"lo","type":"quantitative","axis":{"values":[0,2,4,6,8,10]},"title":"Relative mRNA expression"},"y2":{"field":"hi"}}},
   {"data":{"name":"bars"},"transform":[{"filter":"datum.p=='C3'"}],"mark":{"type":"tick","size":14,"thickness":1.3},"encoding":{"y":{"field":"lo","type":"quantitative","axis":{"values":[0,2,4,6,8,10]},"title":"Relative mRNA expression"}}},
   {"data":{"name":"bars"},"transform":[{"filter":"datum.p=='C3'"}],"mark":{"type":"tick","size":14,"thickness":1.3},"encoding":{"y":{"field":"hi","type":"quantitative","axis":{"values":[0,2,4,6,8,10]},"title":"Relative mRNA expression"}}},
   {"data":{"name":"pts"},"transform":[{"filter":"datum.p=='C3'"}],"mark":{"type":"circle","size":16,"opacity":1},"encoding":{"y":{"field":"v","type":"quantitative","axis":{"values":[0,2,4,6,8,10]},"title":"Relative mRNA expression"},"xOffset":{"field":"s","type":"ordinal","scale":{"domain":[1,2,3,4,5,6,7,8,9],"paddingInner":0,"paddingOuter":0}}}},
   {"data":{"name":"pts"},"transform":[{"filter":"datum.p=='C3' && datum.sig"}],"mark":{"type":"text","dy":-3,"fontSize":15,"baseline":"alphabetic"},"encoding":{"y":{"aggregate":"max","field":"v","type":"quantitative","axis":{"values":[0,2,4,6,8,10]},"title":"Relative mRNA expression"},"text":{"field":"sig"},"color":{"value":"#000"}}}
  ]}
]
}
